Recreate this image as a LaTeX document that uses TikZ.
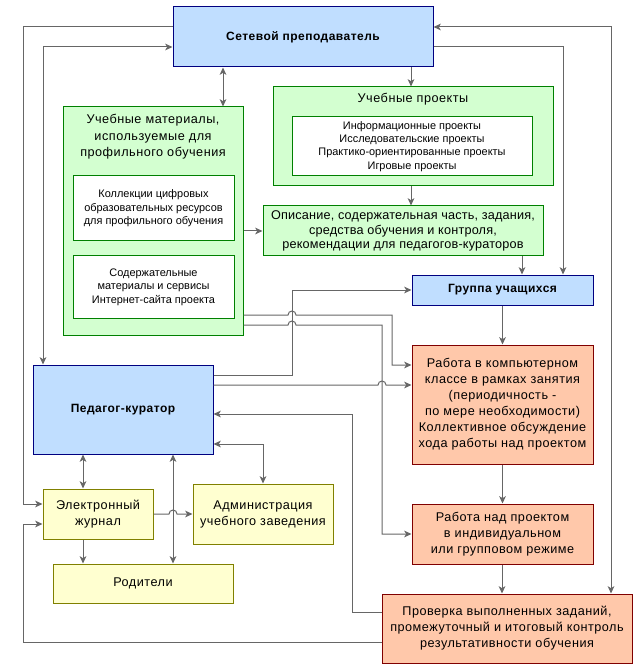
\documentclass[tikz,border=0pt]{standalone}
\usepackage{fontspec}
\setmainfont{Liberation Sans}
\newfontfamily\widefont[LetterSpace=4]{Liberation Sans}
\newfontfamily\midfont[LetterSpace=1.5]{Liberation Sans}
\usetikzlibrary{arrows.meta}

\tikzset{every picture/.style={line width=0.75pt}}
\tikzset{
  blk/.style={draw, align=center, inner sep=0pt, font=\widefont\fontsize{9.5}{12}\selectfont},
  bluebox/.style={blk, draw={rgb, 255:red, 0; green, 0; blue, 128 }, fill={rgb, 255:red, 192; green, 222; blue, 255 }, font=\widefont\fontsize{9}{12}\selectfont\bfseries},
  greenbox/.style={blk, draw={rgb, 255:red, 0; green, 128; blue, 0 }, fill={rgb, 255:red, 211; green, 255; blue, 208 }},
  whitebox/.style={blk, draw={rgb, 255:red, 0; green, 128; blue, 0 }, fill=white, font=\normalfont\fontsize{8.2}{10}\selectfont},
  yellowbox/.style={blk, draw={rgb, 255:red, 128; green, 128; blue, 0 }, fill={rgb, 255:red, 255; green, 255; blue, 208 }},
  redbox/.style={blk, draw={rgb, 255:red, 128; green, 0; blue, 0 }, fill={rgb, 255:red, 255; green, 200; blue, 170 }},
  txt/.style={align=center, inner sep=0pt, font=\widefont\fontsize{9.5}{12.4}\selectfont},
  link/.style={draw={rgb, 255:red, 102; green, 102; blue, 102 }, -{Stealth[length=5.5pt, width=5pt, inset=1.5pt]}},
  blink/.style={draw={rgb, 255:red, 102; green, 102; blue, 102 }, {Stealth[length=5.5pt, width=5pt, inset=1.5pt]}-{Stealth[length=5.5pt, width=5pt, inset=1.5pt]}}
}

\begin{document}
\begin{tikzpicture}[x=0.75pt,y=0.75pt,yscale=-1,xscale=1]
  \useasboundingbox (0,0) rectangle (635,666);

  %Shape: Rectangle
  \draw (303,37) node [bluebox, minimum width=195pt, minimum height=45pt] (sp) {Сетевой преподаватель};
  %Shape: Rectangle
  \draw (153,221) node [greenbox, minimum width=135pt, minimum height=171pt] (um) {};
  % Text Node
  \draw (153,137) node [txt] (umt) {Учебные материалы,\\используемые для\\профильного обучения};
  %Shape: Rectangle
  \draw (153.5,208.5) node [whitebox, minimum width=120.75pt, minimum height=48.75pt] (uma) {Коллекции цифровых\\образовательных ресурсов\\для профильного обучения};
  %Shape: Rectangle
  \draw (153.5,287) node [whitebox, minimum width=120.75pt, minimum height=46.5pt] (umb) {Содержательные\\материалы и сервисы\\Интернет-сайта проекта};
  %Shape: Rectangle
  \draw (413,136.5) node [greenbox, minimum width=210pt, minimum height=74.25pt] (up) {};
  % Text Node
  \draw (413,99) node [txt] (upt) {Учебные проекты};
  %Shape: Rectangle
  \draw (412,146.5) node [whitebox, minimum width=180pt, minimum height=44.25pt] (upi) {Информационные проекты\\Исследовательские проекты\\Практико-ориентированные проекты\\Игровые проекты};
  %Shape: Rectangle
  \draw (403,231) node [greenbox, minimum width=210pt, minimum height=37.5pt, font=\midfont\fontsize{9.5}{10.6}\selectfont] (op) {Описание, содержательная часть, задания,\\средства обучения и контроля,\\рекомендации для педагогов-кураторов};
  %Shape: Rectangle
  \draw (502.5,290) node [bluebox, minimum width=135.75pt, minimum height=22.5pt] (gu) {Группа учащихся};
  %Shape: Rectangle
  \draw (502.5,404.5) node [redbox, minimum width=135.75pt, minimum height=89.25pt] (rk) {Работа в компьютерном\\классе в рамках занятия\\(периодичность -\\по мере необходимости)\\Коллективное обсуждение\\хода работы над проектом};
  %Shape: Rectangle
  \draw (502.5,534) node [redbox, minimum width=135.75pt, minimum height=45pt] (rp) {Работа над проектом\\в индивидуальном\\или групповом режиме};
  %Shape: Rectangle
  \draw (507,628.5) node [redbox, minimum width=187.5pt, minimum height=51.75pt] (pr) {Проверка выполненных заданий,\\промежуточный и итоговый контроль\\результативности обучения};
  %Shape: Rectangle
  \draw (123,409.5) node [bluebox, minimum width=135pt, minimum height=66.75pt] (pk) {Педагог-куратор};
  %Shape: Rectangle
  \draw (98,514) node [yellowbox, minimum width=82.5pt, minimum height=37.5pt] (ej) {Электронный\\журнал};
  %Shape: Rectangle
  \draw (263,514) node [yellowbox, minimum width=105pt, minimum height=45pt] (ad) {Администрация\\учебного заведения};
  %Shape: Rectangle
  \draw (143,583.5) node [yellowbox, minimum width=135pt, minimum height=29.25pt] (ro) {Родители};

  %Straight Lines
  \draw [link] (sp.west |- 0,27) -| (23,504) -- (ej.west |- 0,504);
  \draw [blink] (sp.west |- 0,47) -| (pk.north -| 43,0);
  \draw [blink] (sp.south -| 223,0) -- (um.north -| 223,0);
  \draw [link] (sp.south -| 411,0) -- (up.north -| 411,0);
  \draw [blink] (sp.east |- 0,27) -| (pr.north -| 611,0);
  \draw [link] (sp.east |- 0,47) -| (gu.north -| 563,0);
  \draw [link] (up.south -| 411,0) -- (op.north -| 411,0);
  \draw [link] (um.east |- 0,231) -- (op.west);
  \draw [link] (op.south -| 522,0) -- (gu.north -| 522,0);
  \draw [link] (gu.south) -- (rk.north);
  %Lines with jumps
  \draw [link] (um.east |- 0,315) -- (288,315) arc (180:360:4) -- (392,315) -- (392,365) -- (rk.west |- 0,365);
  \draw [link] (um.east |- 0,325) -- (288,325) arc (180:360:4) -- (382,325) |- (rp.west);
  \draw [link] (pk.east |- 0,375) -| (292,290) -- (gu.west);
  \draw [link] (pk.east |- 0,385) -- (378,385) arc (180:360:4) -- (rk.west |- 0,385);
  \draw [link] (pr.west |- 0,612) -| (352,414) -- (pk.east |- 0,414);
  \draw [blink] (pk.east |- 0,444) -| (ad.north);
  \draw [blink] (pk.south -| 83,0) -- (ej.north -| 83,0);
  \draw [blink] (pk.south -| 173,0) -- (ro.north -| 173,0);
  \draw [link] (ej.east) -- (169,514) arc (180:360:4) -- (ad.west);
  \draw [link] (ej.south -| 83,0) -- (ro.north -| 83,0);
  \draw [link] (pr.west |- 0,642) -| (23,524) -- (ej.west |- 0,524);
  \draw [link] (rk.south) -- (rp.north);
  \draw [link] (rp.south -| 502,0) -- (pr.north -| 502,0);

\end{tikzpicture}
\end{document}
